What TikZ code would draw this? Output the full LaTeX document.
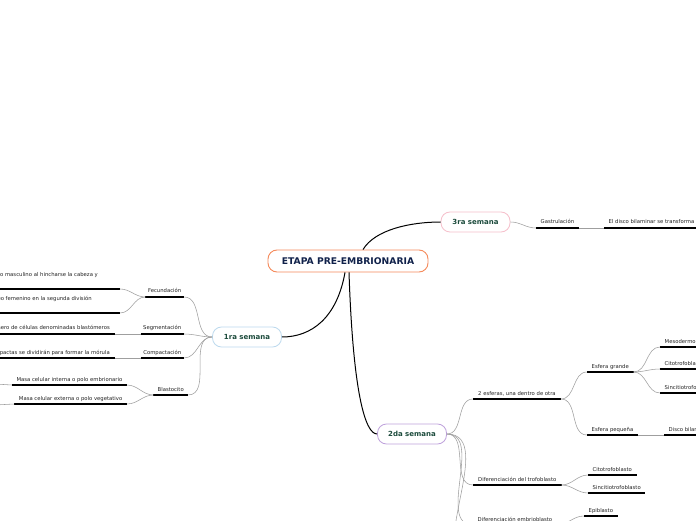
\documentclass[tikz,border=0pt]{standalone}
\usepackage{fontspec}
\setmainfont{DejaVu Sans}
\usetikzlibrary{positioning}

\begin{document}
\begin{tikzpicture}[x=1pt,y=1pt, every node/.style={inner sep=0pt},
  uline/.style={draw=black, line width=1.2pt},
  main/.style={draw=black, line width=1pt},
  branch/.style={draw=gray!75, line width=0.55pt},
  topic/.style={font=\fontsize{5.3}{6.3}\selectfont, text=tx, inner xsep=4.5pt, inner ysep=1.2pt, text depth=2.6pt,
    append after command={(\tikzlastnode.south west) edge[uline] (\tikzlastnode.south east)}},
  lefttopic/.style={topic, anchor=south east},
  righttopic/.style={topic, anchor=south west},
  week/.style={draw=#1, fill=white, line width=0.8pt, rounded corners=9pt, minimum width=69pt, minimum height=20pt,
    font=\bfseries\fontsize{7}{8}\selectfont, text=wk}]
\definecolor{tx}{HTML}{222222}\definecolor{wk}{HTML}{1C4B3C}\definecolor{ti}{HTML}{10214A}
\definecolor{or}{HTML}{F58A5B}\definecolor{pk}{HTML}{F6BFCB}
\definecolor{bl}{HTML}{BDDAEE}\definecolor{pu}{HTML}{BFA2DC}
\useasboundingbox (0,0) rectangle (696,520);
\clip (0,0) rectangle (696,520);
\fill[white] (0,0) rectangle (696,520);
% centre and weeks
\node[draw=or, fill=white, line width=0.9pt, rounded corners=9pt, minimum width=160pt, minimum height=22pt,
  font=\bfseries\fontsize{9.2}{11}\selectfont, text=ti] (etapa) at (348,259) {ETAPA PRE-EMBRIONARIA};
\node[week=pk] (tercera) at (475.5,298) {3ra semana};
\node[week=bl] (primera) at (247,183) {1ra semana};
\node[week=pu] (segunda) at (412,86) {2da semana};
\draw[main] ([xshift=15pt]etapa.north) .. controls +(12,20) and +(-30,0) .. (tercera.west);
\draw[main] ([xshift=-3pt]etapa.south) .. controls +(-8,-45) and +(30,0) .. (primera.east);
\draw[main] ([xshift=1pt]etapa.south) .. controls +(4,-120) and +(-12,0) .. (segunda.west);
% 1ra semana
\node[lefttopic, inner xsep=2.5pt] (fecundacion) at (184,223) {Fecundación};
\node[lefttopic, inner xsep=2.5pt] (segmentacion) at (184,186) {Segmentación};
\node[lefttopic, inner xsep=2.5pt] (compactacion) at (184,162) {Compactación};
\node[lefttopic, inner xsep=4pt] (blastocito) at (188,125) {Blastocito};
\node[lefttopic, inner xsep=22pt, text depth=10.8pt] (pronmasc) at (120,231) {pronúcleo masculino al hincharse la cabeza y};
\node[lefttopic, inner xsep=28pt, text depth=10.8pt] (pronfem) at (120,207) {pronúcleo femenino en la segunda división};
\node[lefttopic, inner xsep=5pt] (blastomeros) at (115,186) {número de células denominadas blastómeros};
\node[lefttopic, inner xsep=5pt] (morula) at (115,162) {compactas se dividirán para formar la mórula};
\node[lefttopic] (masaint) at (127,135) {Masa celular interna o polo embrionario};
\node[lefttopic] (masaext) at (127,116) {Masa celular externa o polo vegetativo};
\coordinate (masaintx) at (-5,136);
\coordinate (masaextx) at (-5,115);
\draw[branch] (primera.west) to[out=180,in=0] (fecundacion.south east);
\draw[branch] (primera.west) to[out=180,in=0] (segmentacion.south east);
\draw[branch] (primera.west) to[out=180,in=0] (compactacion.south east);
\draw[branch] (primera.west) to[out=180,in=0] (blastocito.south east);
\draw[branch] (fecundacion.south west) to[out=180,in=0] (pronmasc.south east);
\draw[branch] (fecundacion.south west) to[out=180,in=0] (pronfem.south east);
\draw[branch] (segmentacion.south west) -- (blastomeros.south east);
\draw[branch] (compactacion.south west) -- (morula.south east);
\draw[branch] (blastocito.south west) to[out=180,in=0] (masaint.south east);
\draw[branch] (blastocito.south west) to[out=180,in=0] (masaext.south east);
\draw[branch] (masaint.south west) -- (masaintx);
\draw[branch] (masaext.south west) -- (masaextx);
% 3ra semana
\node[righttopic] (gastrulacion) at (536,292) {Gastrulación};
\node[righttopic] (transforma) at (604,292) {El disco bilaminar se transforma};
\draw[branch] (tercera.east) to[out=0,in=180] (gastrulacion.south west);
\draw[branch] (gastrulacion.south east) -- (transforma.south west);
% 2da semana
\node[righttopic, inner xsep=5pt] (esferas) at (473,121) {2 esferas, una dentro de otra};
\node[righttopic] (grande) at (587,148) {Esfera grande};
\node[righttopic] (mesodermo) at (660,173) {Mesodermo};
\node[righttopic] (citoA) at (660,151) {Citotrofoblasto};
\node[righttopic] (sincA) at (660,127) {Sincitiotrofoblasto};
\node[righttopic] (pequena) at (587,85) {Esfera pequeña};
\node[righttopic] (disco) at (664,85) {Disco bilaminar};
\node[righttopic, inner xsep=5pt] (trofoblasto) at (473,35) {Diferenciación del trofoblasto};
\node[righttopic] (citoB) at (588,45) {Citotrofoblasto};
\node[righttopic] (sincB) at (588,27) {Sincitiotrofoblasto};
\node[righttopic] (embrioblasto) at (473,-5) {Diferenciación embrioblasto};
\node[righttopic] (epiblasto) at (584,4) {Epiblasto};
\coordinate (siguiente) at (473,-45);
\draw[branch] (segunda.east) to[out=0,in=180] (esferas.south west);
\draw[branch] (segunda.east) to[out=0,in=180] (trofoblasto.south west);
\draw[branch] (segunda.east) to[out=0,in=180] (embrioblasto.south west);
\draw[branch] (segunda.east) to[out=0,in=180] (siguiente);
\draw[branch] (esferas.south east) to[out=0,in=180] (grande.south west);
\draw[branch] (esferas.south east) to[out=0,in=180] (pequena.south west);
\draw[branch] (grande.south east) to[out=0,in=180] (mesodermo.south west);
\draw[branch] (grande.south east) to[out=0,in=180] (citoA.south west);
\draw[branch] (grande.south east) to[out=0,in=180] (sincA.south west);
\draw[branch] (pequena.south east) -- (disco.south west);
\draw[branch] (trofoblasto.south east) to[out=0,in=180] (citoB.south west);
\draw[branch] (trofoblasto.south east) to[out=0,in=180] (sincB.south west);
\draw[branch] (embrioblasto.south east) to[out=0,in=180] (epiblasto.south west);
\end{tikzpicture}
\end{document}
